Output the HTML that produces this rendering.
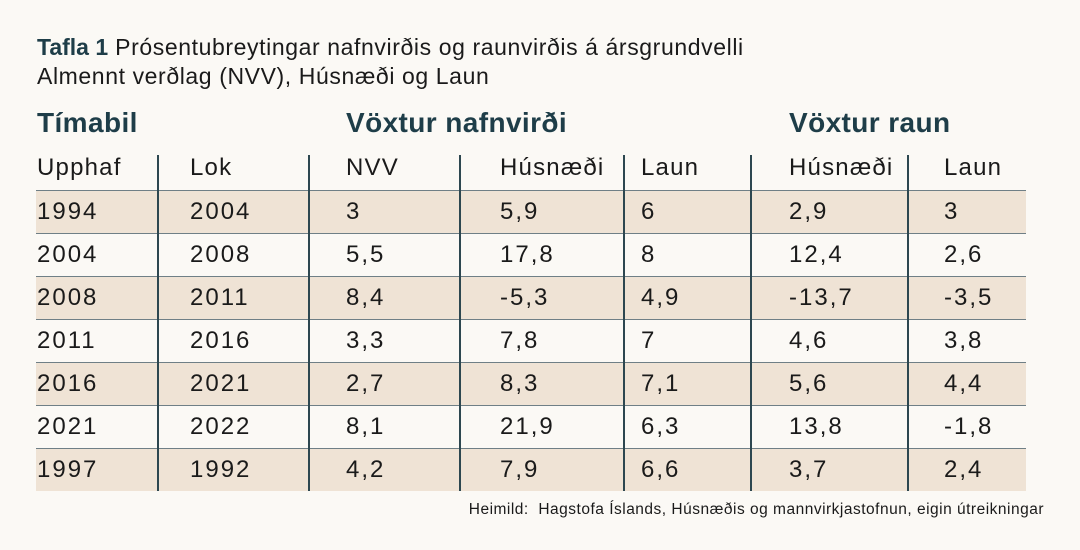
<!DOCTYPE html>
<html><head><meta charset="utf-8"><style>
body{margin:0;width:1080px;height:550px;background:#fbf9f5;font-family:"Liberation Sans",sans-serif;color:#1a1a1a;position:relative;overflow:hidden}
.t{position:absolute;white-space:nowrap}
.title{left:37px;top:33px;font-size:23px;line-height:29px;letter-spacing:0.6px;color:#1a1a1a}
.title b{color:#1e3d48;letter-spacing:0}
.grp{top:107px;font-size:28px;letter-spacing:0.4px;font-weight:bold;color:#1e3d48}
.hdr{top:154px;font-size:24px;letter-spacing:1.2px}
.row{position:absolute;left:36px;width:990px;height:42px;border-top:1.5px solid #6f7f86}
.row.alt{background:#efe3d5}
.cell{position:absolute;top:7px;font-size:24px;letter-spacing:2px}
.vl{position:absolute;top:155px;height:336px;width:1.5px;background:#2d4750}
.foot{right:36px;top:501px;font-size:15.5px;letter-spacing:0.5px}
</style></head><body>
<div class="t title"><b>Tafla 1</b> Prósentubreytingar nafnvirðis og raunvirðis á ársgrundvelli<br>Almennt verðlag (NVV), Húsnæði og Laun</div>
<div class="t grp" style="left:37px">Tímabil</div>
<div class="t grp" style="left:346px">Vöxtur nafnvirði</div>
<div class="t grp" style="left:789px">Vöxtur raun</div>
<div id="tbl"></div>
<div class="t foot">Heimild:&nbsp; Hagstofa Íslands, Húsnæðis og mannvirkjastofnun, eigin útreikningar</div>
<script>
const headers=["Upphaf","Lok","NVV","Húsnæði","Laun","Húsnæði","Laun"];
const upphaf=["1994","2004","2008","2011","2016","2021","1997"];
const lok=["2004","2008","2011","2016","2021","2022","1992"];
const nvv=["3","5,5","8,4","3,3","2,7","8,1","4,2"];
const husN=["5,9","17,8","-5,3","7,8","8,3","21,9","7,9"];
const launN=["6","8","4,9","7","7,1","6,3","6,6"];
const husR=["2,9","12,4","-13,7","4,6","5,6","13,8","3,7"];
const launR=["3","2,6","-3,5","3,8","4,4","-1,8","2,4"];
const cols=[upphaf,lok,nvv,husN,launN,husR,launR];
const xs=[37,190,346,500,641,789,944];
const vls=[157,308,459,623,750,907];
const tbl=document.getElementById('tbl');
headers.forEach((h,i)=>{const d=document.createElement('div');d.className='t hdr';d.style.left=xs[i]+'px';d.textContent=h;


tbl.appendChild(d);});
for(let r=0;r<upphaf.length;r++){
 const row=document.createElement('div');row.className='row'+(r%2==0?' alt':'');row.style.top=(190+r*43)+'px';
 
 
 cols.forEach((c,i)=>{const d=document.createElement('div');d.className='cell';d.style.left=(xs[i]-36)+'px';d.textContent=c[r];
 
 
 row.appendChild(d);});
 tbl.appendChild(row);
}
vls.forEach(x=>{const v=document.createElement('div');v.className='vl';v.style.left=x+'px';


tbl.appendChild(v);});
</script>
</body></html>
